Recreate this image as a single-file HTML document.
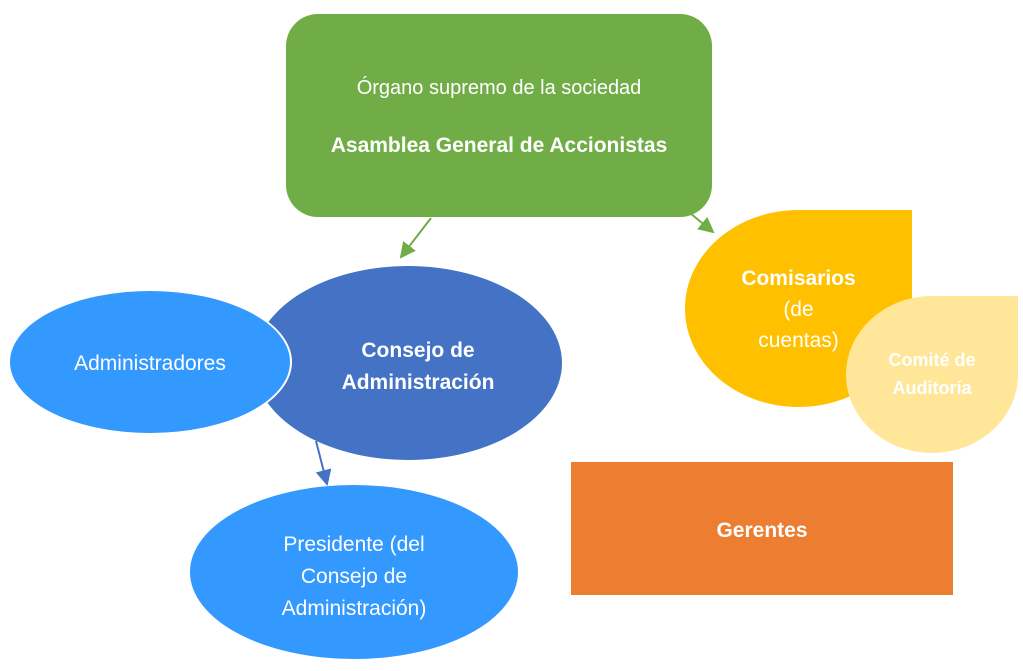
<!DOCTYPE html>
<html><head><meta charset="utf-8"><style>
body{margin:0;width:1023px;height:671px;background:#fff;position:relative;overflow:hidden;font-family:"Liberation Sans",sans-serif;color:#fff}
.a{position:absolute;display:flex;align-items:center;justify-content:center;text-align:center;box-sizing:border-box}
</style></head><body>
<div class="a" style="left:286px;top:14px;width:426px;height:203px;background:#70AD47;border-radius:32px;flex-direction:column;padding-top:16px">
<div style="font-size:20px;margin-top:-12px">Órgano supremo de la sociedad</div>
<div style="font-size:21px;font-weight:bold;margin-top:34px">Asamblea General de Accionistas</div></div>
<div class="a" style="left:254px;top:266px;width:308px;height:194px;background:#4472C4;border-radius:50%;font-weight:bold;font-size:21px;line-height:32px;padding-left:20px;padding-top:8px">Consejo de<br>Administración</div>
<div class="a" style="left:8px;top:289px;width:284px;height:146px;background:#3399FF;border:2px solid #fff;border-radius:50%;font-size:21px;padding-top:4px">Administradores</div>
<div class="a" style="left:190px;top:485px;width:328px;height:174px;background:#3399FF;border-radius:50%;font-size:21px;line-height:32px;padding-top:10px">Presidente (del<br>Consejo de<br>Administración)</div>
<div class="a" style="left:685px;top:210px;width:227px;height:197px;background:#FFC000;border-radius:50% 0 50% 50%;font-size:21px;line-height:31px;padding-top:1px"><div><b>Comisarios</b><br>(de<br>cuentas)</div></div>
<div class="a" style="left:846px;top:296px;width:172px;height:157px;background:#FFE699;border-radius:50% 0 50% 50%;font-size:18px;font-weight:bold;line-height:28px;padding-bottom:2px">Comité de<br>Auditoría</div>
<div class="a" style="left:571px;top:462px;width:382px;height:133px;background:#ED7D31;font-size:21px;font-weight:bold;padding-top:4px">Gerentes</div>
<svg width="1023" height="671" style="position:absolute;left:0;top:0">
<defs><marker id="g" markerWidth="8" markerHeight="8" refX="7" refY="4" orient="auto"><path d="M0,0L8,4L0,8z" fill="#70AD47"/></marker>
<marker id="b" markerWidth="8" markerHeight="8" refX="7" refY="4" orient="auto"><path d="M0,0L8,4L0,8z" fill="#4472C4"/></marker></defs>
<line x1="431" y1="218" x2="401" y2="257" stroke="#70AD47" stroke-width="2" marker-end="url(#g)"/>
<line x1="690" y1="213" x2="713" y2="232" stroke="#70AD47" stroke-width="2" marker-end="url(#g)"/>
<line x1="316" y1="441" x2="327" y2="484" stroke="#4472C4" stroke-width="2" marker-end="url(#b)"/>
</svg>
</body></html>
